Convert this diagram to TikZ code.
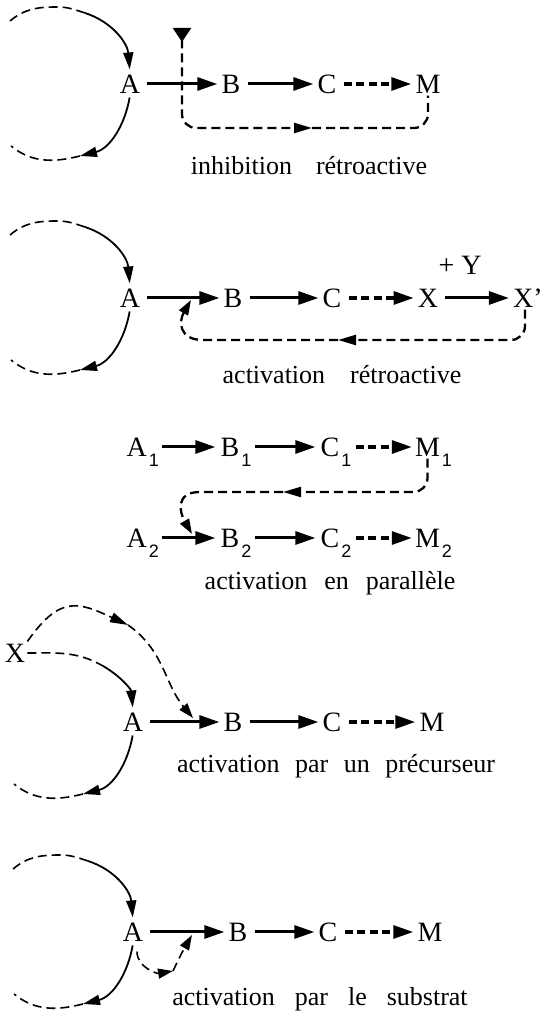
\documentclass[tikz,border=0pt]{standalone}
\usepackage{fontspec}
\setmainfont{Liberation Serif}
\newfontfamily\subfont{Liberation Sans}
\usetikzlibrary{arrows.meta}
\newcommand\subidx[1]{\kern2pt\smash{\raisebox{-10pt}{\subfont\fontsize{18}{18}\selectfont #1}}}
\tikzset{
  every picture/.style={x=1pt, y=1pt, line width=1.6pt},
  letter/.style={font=\fontsize{28}{32}\selectfont, inner sep=1.5pt, text height=18.5pt, text depth=0pt},
  arrow/.style={-{Triangle[length=20pt,width=13pt]}, line width=3pt, shorten <=5pt, shorten >=2pt},
  darrow/.style={arrow, dash pattern=on 8pt off 4.5pt, line width=3.2pt},
  cyc/.style={-{Triangle[length=17pt,width=10pt]}, line width=1.8pt},
  dloop/.style={line width=1.6pt, dash pattern=on 9pt off 5pt},
  feedback/.style={line width=2.3pt, dash pattern=on 9pt off 5pt},
  midtip/.style={-{Triangle[length=18pt,width=10pt]}},
  endtip/.style={-{Triangle[length=15pt,width=10pt]}},
  note/.style={font=\fontsize{26}{30}\selectfont, anchor=base, inner sep=0pt, execute at begin node={\spaceskip=#1\relax}},
}

\begin{document}
\begin{tikzpicture}
  \useasboundingbox (0,0) rectangle (544,1014);
  % inhibition retroactive
  \node[letter] (inhA) at (130,930) {A};
  \node[letter] (inhB) at (231,930) {B};
  \node[letter] (inhC) at (327,930) {C};
  \node[letter] (inhM) at (428,930) {M};
  \draw[arrow] (inhA) -- (inhB);
  \draw[arrow] (inhB) -- (inhC);
  \draw[darrow] (inhC) -- (inhM);
  \coordinate (inhT) at (182,986);
  \coordinate (inhF) at (312,886);
  \draw[feedback, rounded corners=14pt, {Triangle[reversed,length=14pt,width=18pt]}-{Triangle[length=18pt,width=10pt]}] (inhT) |- (inhF);
  \draw[feedback, rounded corners=14pt] (inhF) -| (inhM.south);
  \node[note=24pt] (inhL) at (309,839) {inhibition rétroactive};
  % activation retroactive
  \node[letter] (actA) at (130,716) {A};
  \node[letter] (actB) at (233,716) {B};
  \node[letter] (actC) at (332,716) {C};
  \node[letter] (actX) at (428,716) {X};
  \node[letter] (actXp) at (528,716) {X'};
  \node[letter] (actY) at (460,749) {+ Y};
  \draw[arrow] (actA) -- (actB);
  \draw[arrow] (actB) -- (actC);
  \draw[darrow] (actC) -- (actX);
  \draw[arrow] (actX) -- (actXp);
  \coordinate (actF) at (338,674);
  \coordinate (actK) at (203,674);
  \coordinate (actT) at (191,714);
  \draw[feedback, midtip, rounded corners=14pt] ([xshift=-3pt]actXp.south) |- (actF);
  \draw[feedback, endtip] (actF) -- (actK) to[out=180, in=-120, looseness=1.5] (actT);
  \node[note=25pt] (actL) at (342,630) {activation rétroactive};
  % activation en parallele
  \foreach \r/\y in {1/567, 2/476} {
    \node[letter] (parA\r) at (142.7,\y) {A\subidx{\r}};
    \node[letter] (parB\r) at (236,\y) {B\subidx{\r}};
    \node[letter] (parC\r) at (336,\y) {C\subidx{\r}};
    \node[letter] (parM\r) at (433.5,\y) {M\subidx{\r}};
    \draw[arrow, shorten <=1pt, shorten >=3pt] (parA\r) -- (parB\r);
    \draw[arrow, shorten <=1pt, shorten >=3pt] (parB\r) -- (parC\r);
    \draw[darrow, shorten <=2pt, shorten >=1pt] (parC\r) -- (parM\r);
  }
  \coordinate (parF) at (283,522);
  \coordinate (parK) at (200,522);
  \coordinate (parT) at (192,480);
  \draw[feedback, midtip, rounded corners=14pt] ([xshift=-6pt]parM1.south) |- (parF);
  \draw[feedback, endtip] (parF) -- (parK) to[out=180, in=120, looseness=1.5] (parT);
  \node[note=17pt] (parL) at (330,424) {activation en parallèle};
  % activation par un precurseur
  \node[letter] (preX) at (15,361) {X};
  \node[letter] (preA) at (133,292) {A};
  \node[letter] (preB) at (233,292) {B};
  \node[letter] (preC) at (332,292) {C};
  \node[letter] (preM) at (432,292) {M};
  \draw[arrow] (preA) -- (preB);
  \draw[arrow] (preB) -- (preC);
  \draw[darrow] (preC) -- (preM);
  \coordinate (preF) at (128,389);
  \coordinate (preT) at (193,296);
  \coordinate (preQ) at (103,348);
  \draw[dloop, midtip] (preX.north east) to[out=55, in=155, looseness=1.4] (preF);
  \draw[dloop, endtip] (preF) to[out=-35, in=130] (preT);
  \draw[dloop] (preX.east) to[out=0, in=150] (preQ);
  \draw[cyc, shorten >=3pt] (preQ) to[out=-30, in=95] (preA.north);
  \node[note=15.5pt] (preL) at (336,241) {activation par un précurseur};
  % activation par le substrat
  \node[letter] (subA) at (133,82) {A};
  \node[letter] (subB) at (238,82) {B};
  \node[letter] (subC) at (328,82) {C};
  \node[letter] (subM) at (430,82) {M};
  \draw[arrow] (subA) -- (subB);
  \draw[arrow] (subB) -- (subC);
  \draw[darrow] (subC) -- (subM);
  \coordinate (subF) at (173,43);
  \coordinate (subT) at (192,79);
  \draw[dloop, endtip] ([shift={(4,-8)}]subA.south) to[out=-90, in=190] (subF);
  \draw[dloop, endtip] (subF) to[out=65, in=-120] (subT);
  \node[note=20pt] (subL) at (320,9) {activation par le substrat};
  % cycles round A
  \foreach \n in {inhA, actA, subA} {
    \draw[dloop] ([shift={(-120,63)}]\n.center) to[out=40, in=180] ([shift={(-73,77)}]\n.center)
      to[out=0, in=162] ([shift={(-45,71)}]\n.center) coordinate (\n-s);
    \draw[cyc, shorten >=3pt] (\n-s) to[out=-18, in=95] (\n.north);
  }
  \foreach \n in {inhA, actA, preA, subA} {
    \draw[cyc, shorten <=2pt] (\n.south) to[out=-100, in=14] ([shift={(-50,-72)}]\n.center) coordinate (\n-b);
    \draw[dloop] (\n-b) to[out=194, in=-39] ([shift={(-119,-62)}]\n.center);
  }
\end{tikzpicture}
\end{document}
